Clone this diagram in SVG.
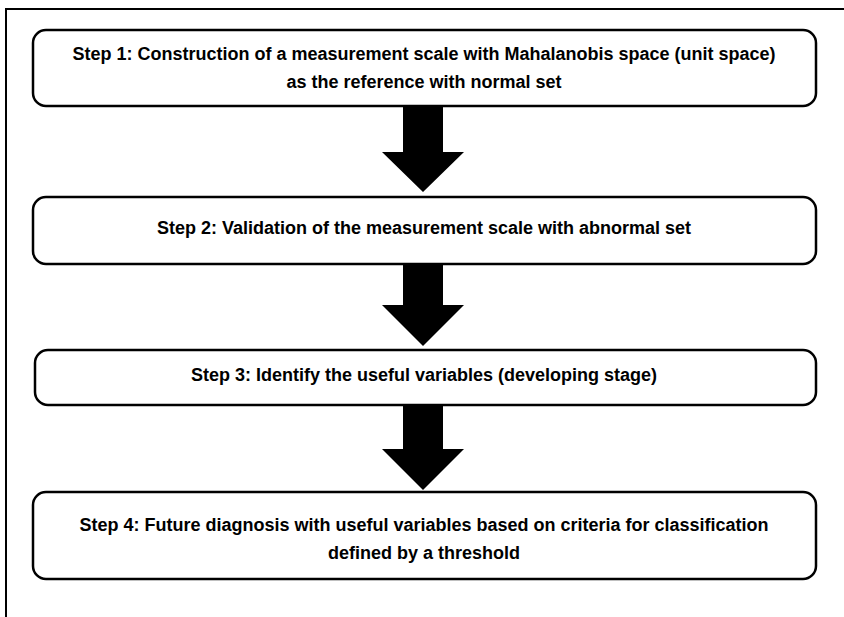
<svg xmlns="http://www.w3.org/2000/svg" width="844" height="617" viewBox="0 0 844 617">
<style>
.box{fill:#fff;stroke:#000;stroke-width:2.5}
.frame{fill:none;stroke:#000;stroke-width:2}
.arrow{fill:#000;stroke:none}
.t{font-family:"Liberation Sans",Arial,sans-serif;font-weight:bold;font-size:18px;fill:#000;text-anchor:middle}
</style>
<rect width="844" height="617" fill="#fff"/>
<path class="frame" d="M6,617 V9 H844"/>
<g id="connectors">
<polygon class="arrow" points="403,106 443,106 443,152 464,152 423,192 382,152 403,152"/>
<polygon class="arrow" points="403,264 443,264 443,305 464,305 423,346 382,305 403,305"/>
<polygon class="arrow" points="403,405 443,405 443,449 464,449 423,490 382,449 403,449"/>
</g>
<g id="step1">
<rect class="box" x="33" y="30" width="783" height="76" rx="13"/>
<text class="t" x="424" y="59.5">Step 1: Construction of a measurement scale with Mahalanobis space (unit space)</text>
<text class="t" x="424" y="87.5">as the reference with normal set</text>
</g>
<g id="step2">
<rect class="box" x="33" y="197" width="783" height="67" rx="13"/>
<text class="t" x="424" y="233.5">Step 2: Validation of the measurement scale with abnormal set</text>
</g>
<g id="step3">
<rect class="box" x="35" y="350" width="781" height="55" rx="13"/>
<text class="t" x="424" y="380.5">Step 3: Identify the useful variables (developing stage)</text>
</g>
<g id="step4">
<rect class="box" x="33" y="492" width="783" height="87" rx="13"/>
<text class="t" x="424" y="530.5">Step 4: Future diagnosis with useful variables based on criteria for classification</text>
<text class="t" x="424" y="558.5">defined by a threshold</text>
</g>
</svg>
